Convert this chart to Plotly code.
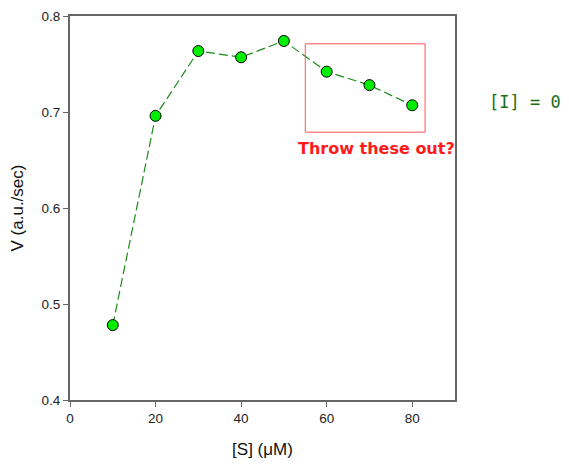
import plotly.graph_objects as go

s_conc = [10, 20, 30, 40, 50, 60, 70, 80]
velocity = [0.478, 0.696, 0.7635, 0.757, 0.774, 0.742, 0.728, 0.707]
x_ticks = [0, 20, 40, 60, 80]
y_ticks = [0.4, 0.5, 0.6, 0.7, 0.8]
box_x = [55.0, 83.0]
box_y = [0.679, 0.771]

fig = go.Figure()
fig.add_trace(go.Scatter(
    x=s_conc, y=velocity, mode="lines+markers",
    line=dict(color="#1a8a1a", width=1.2, dash="9px,4px"),
    marker=dict(size=11, color="#00ee00", line=dict(color="black", width=1)),
    showlegend=False,
))

fig.add_shape(type="rect", xref="x", yref="y",
              x0=box_x[0], x1=box_x[1], y0=box_y[0], y1=box_y[1],
              line=dict(color="#ff5555", width=1))
fig.add_annotation(x=(box_x[0] + box_x[1]) / 2, y=box_y[0], xref="x", yref="y",
                   yshift=-16, xshift=11, text="<b>Throw these out?</b>", showarrow=False,
                   font=dict(family="DejaVu Sans", size=16, color="#ff1a1a"))
fig.add_annotation(x=1.083, xref="paper", xanchor="left", y=0.71, yref="y",
                   text="[I] = 0", showarrow=False,
                   font=dict(family="DejaVu Sans Mono", size=17, color="#1a6e1a"))

axis_common = dict(showline=True, linecolor="#666666", linewidth=2, mirror=True,
                   showgrid=False, zeroline=False, ticks="outside", ticklen=5,
                   tickcolor="#666666", automargin=False,
                   tickfont=dict(family="Liberation Sans", size=13.5, color="#222"))
fig.update_xaxes(range=[0, 90], tickvals=x_ticks,
                 title=dict(text="[S] (μM)", font=dict(family="Liberation Sans", size=17, color="#111"), standoff=18),
                 **axis_common)
fig.update_yaxes(range=[0.4, 0.8], tickvals=y_ticks, tickformat=".1f",
                 title=dict(text="V (a.u./sec)", font=dict(family="Liberation Sans", size=17, color="#111"), standoff=16),
                 **axis_common)

fig.update_layout(width=561, height=457, margin=dict(l=62, r=114, t=8, b=65),
                  plot_bgcolor="white", paper_bgcolor="white")
fig.write_html("out.html")
